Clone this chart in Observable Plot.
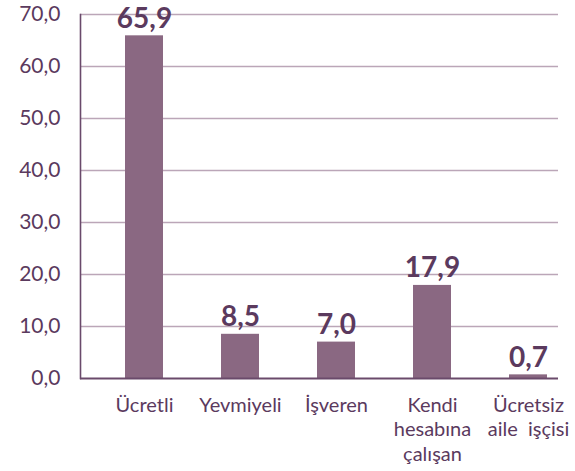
<!DOCTYPE html>
<html>
<head>
<meta charset="utf-8">
<script src="https://cdn.jsdelivr.net/npm/d3@7"></script>
<script src="https://cdn.jsdelivr.net/npm/@observablehq/plot@0.6"></script>
<style>
  html, body { margin: 0; padding: 0; background: #fff; }
  #chart svg { display: block; overflow: visible; }
</style>
</head>
<body>
<div id="chart"></div>
<script>
const categories = ["Ücretli", "Yevmiyeli", "İşveren", "Kendi\nhesabına\nçalışan", "Ücretsiz\naile  işçisi"];
const values = [65.9, 8.5, 7.0, 17.9, 0.7];
const yTicks = [0, 10, 20, 30, 40, 50, 60, 70];

const data = categories.map((c, i) => ({category: c, value: values[i]}));
const fmt = v => d3.format(".1f")(v).replace(".", ",");

const textColor = "#5b3a5e";
const barColor = "#8a6882";
const gridColor = "#bba6b8";
const axisColor = "#6a4a6b";

const chart = Plot.plot({
  width: 575,
  height: 471,
  marginLeft: 80,
  marginRight: 17,
  marginTop: 14,
  marginBottom: 93,
  style: {fontFamily: "Lato, sans-serif", color: textColor, background: "#fff"},
  x: {domain: categories, range: [124, 548], paddingInner: 0.606, paddingOuter: 0, label: null},
  y: {domain: [0, 70], label: null},
  marks: [
    Plot.ruleY(yTicks.filter(t => t > 0), {stroke: gridColor, strokeWidth: 1.3}),
    Plot.barY(data, {x: "category", y: "value", fill: barColor}),
    Plot.text(data, {
      x: "category", y: "value", text: d => fmt(d.value),
      dy: -8, lineAnchor: "bottom", fontSize: 28, fontWeight: "bold", fill: textColor
    }),
    Plot.axisY({
      ticks: yTicks, tickFormat: fmt, tickSize: 0, tickPadding: 20,
      fontSize: 21, fill: textColor, label: null
    }),
    Plot.axisX({
      tickSize: 0, tickPadding: 16, fontSize: 20, lineHeight: 1.22,
      fill: textColor, label: null
    }),
    Plot.frame({anchor: "left", stroke: axisColor, strokeWidth: 1.6}),
    Plot.ruleY([0], {stroke: axisColor, strokeWidth: 2})
  ]
});
document.getElementById("chart").appendChild(chart);
</script>
</body>
</html>
